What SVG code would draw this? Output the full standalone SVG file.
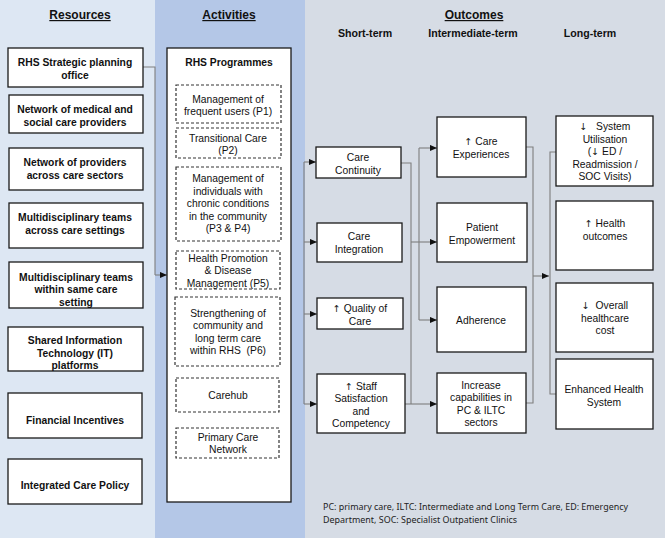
<svg xmlns="http://www.w3.org/2000/svg" width="669" height="540" viewBox="0 0 669 540">
<defs>
<style>
text{font-family:"Liberation Sans",Arial,sans-serif;fill:#111;text-anchor:middle}
.h{font-size:12px;font-weight:bold;text-decoration:underline}
.sh{font-size:10.6px;font-weight:bold}
.b{font-size:10.3px;font-weight:bold}
.r{font-size:10.3px}
.ar{font-family:"DejaVu Sans",sans-serif;font-size:9.5px;fill:#111}
.box{fill:#fff;stroke:#1a1a1a;stroke-width:1.3}
.dash{fill:#fff;stroke:#333;stroke-width:1.2;stroke-dasharray:3 2}
.ln{fill:none;stroke:#7f7f7f;stroke-width:1.1}
.note{font-family:"Noto Sans","Open Sans",sans-serif;font-size:9.4px;text-anchor:start;fill:#222}
</style>
<marker id="ah" viewBox="0 0 8 8" refX="8" refY="4" markerWidth="7" markerHeight="7" markerUnits="userSpaceOnUse" orient="auto">
<path d="M0,0.5 L8,4 L0,7.5 z" fill="#111"/>
</marker>
</defs>
<rect x="0" y="0" width="669" height="540" fill="#ffffff"/>
<rect x="0" y="0" width="155" height="538" fill="#dde7f3"/>
<rect x="155" y="0" width="150" height="538" fill="#b4c7e7"/>
<rect x="305" y="0" width="360" height="538" fill="#d6dce5"/>

<g id="headers">
<text class="h" x="80" y="19">Resources</text>
<text class="h" x="229" y="19">Activities</text>
<text class="h" x="474" y="19">Outcomes</text>
<text class="sh" x="365" y="37">Short-term</text>
<text class="sh" x="473" y="37">Intermediate-term</text>
<text class="sh" x="590" y="37">Long-term</text>
</g>

<g id="connectors">
<polyline class="ln" points="143,67 155,67 155,275"/>
<line class="ln" x1="155" y1="275" x2="167" y2="275" marker-end="url(#ah)"/>
<line class="ln" x1="304" y1="162" x2="304" y2="404"/>
<line class="ln" x1="304" y1="162" x2="316" y2="162" marker-end="url(#ah)"/>
<line class="ln" x1="304" y1="242" x2="317" y2="242" marker-end="url(#ah)"/>
<line class="ln" x1="304" y1="314" x2="317" y2="314" marker-end="url(#ah)"/>
<line class="ln" x1="304" y1="404" x2="317" y2="404" marker-end="url(#ah)"/>
<polyline class="ln" points="401,163 411,163 411,404"/>
<line class="ln" x1="405" y1="404" x2="437" y2="404" marker-end="url(#ah)"/>
<line class="ln" x1="411" y1="242" x2="437" y2="242" marker-end="url(#ah)"/>
<line class="ln" x1="419" y1="148" x2="419" y2="320"/>
<line class="ln" x1="419" y1="148" x2="437" y2="148" marker-end="url(#ah)"/>
<line class="ln" x1="419" y1="320" x2="437" y2="320" marker-end="url(#ah)"/>
<polyline class="ln" points="526,147 533,147 533,403 526,403"/>
<line class="ln" x1="533" y1="276" x2="549" y2="276" marker-end="url(#ah)"/>
<polyline class="ln" points="556,152 550,152 550,394 556,394"/>
</g>

<g id="res1"><rect class="box" x="8" y="48" width="135" height="39"/><text class="b" x="75" y="66">RHS Strategic planning<tspan x="75" dy="12.5">office</tspan></text></g>
<g id="res2"><rect class="box" x="9" y="95" width="134" height="38"/><text class="b" x="75" y="113">Network of medical and<tspan x="75" dy="12.5">social care providers</tspan></text></g>
<g id="res3"><rect class="box" x="9" y="148" width="134" height="42"/><text class="b" x="75" y="166">Network of providers<tspan x="75" dy="12.5">across care sectors</tspan></text></g>
<g id="res4"><rect class="box" x="9" y="203" width="134" height="45"/><text class="b" x="75" y="221">Multidisciplinary teams<tspan x="75" dy="12.5">across care settings</tspan></text></g>
<g id="res5"><rect class="box" x="9" y="262" width="134" height="46"/><text class="b" x="76" y="281">Multidisciplinary teams<tspan x="76" dy="12.3">within same care</tspan><tspan x="76" dy="12.3">setting</tspan></text></g>
<g id="res6"><rect class="box" x="8" y="327" width="135" height="44"/><text class="b" x="75" y="344">Shared Information<tspan x="75" dy="12.5">Technology (IT)</tspan><tspan x="75" dy="12.5">platforms</tspan></text></g>
<g id="res7"><rect class="box" x="8" y="393" width="134" height="45"/><text class="b" x="75" y="424">Financial Incentives</text></g>
<g id="res8"><rect class="box" x="8" y="459" width="134" height="45"/><text class="b" x="75" y="489">Integrated Care Policy</text></g>

<g id="programmes"><rect class="box" x="167" y="48" width="124" height="454"/><text class="b" x="229" y="66">RHS Programmes</text></g>
<g id="p1"><rect class="dash" x="176" y="85" width="105" height="38"/><text class="r" x="228" y="103">Management of<tspan x="228" dy="12.3">frequent users (P1)</tspan></text></g>
<g id="p2"><rect class="dash" x="176" y="128" width="105" height="30"/><text class="r" x="228" y="142">Transitional Care<tspan x="228" dy="12.3">(P2)</tspan></text></g>
<g id="p3"><rect class="dash" x="176" y="167" width="105" height="74"/><text class="r" x="228" y="182">Management of<tspan x="228" dy="12.6">individuals with</tspan><tspan x="228" dy="12.6">chronic conditions</tspan><tspan x="228" dy="12.6">in the community</tspan><tspan x="228" dy="12.6">(P3 &amp; P4)</tspan></text></g>
<g id="p5"><rect class="dash" x="176" y="251" width="104" height="38"/><text class="r" x="228" y="262">Health Promotion<tspan x="228" dy="12.4">&amp; Disease</tspan><tspan x="228" dy="12.4">Management (P5)</tspan></text></g>
<g id="p6"><rect class="dash" x="175" y="297" width="105" height="69"/><text class="r" x="228" y="317">Strengthening of<tspan x="228" dy="12.4">community and</tspan><tspan x="228" dy="12.4">long term care</tspan><tspan x="228" dy="12.4" xml:space="preserve">within RHS  (P6)</tspan></text></g>
<g id="carehub"><rect class="dash" x="176" y="378" width="103" height="34"/><text class="r" x="228" y="399">Carehub</text></g>
<g id="pcn"><rect class="dash" x="176" y="428" width="103" height="30"/><text class="r" x="228" y="441">Primary Care<tspan x="228" dy="12.3">Network</tspan></text></g>

<g id="st1"><rect class="box" x="316" y="147" width="85" height="31"/><text class="r" x="358" y="161">Care<tspan x="358" dy="12.5">Continuity</tspan></text></g>
<g id="st2"><rect class="box" x="317" y="223" width="85" height="39"/><text class="r" x="359" y="240">Care<tspan x="359" dy="12.7">Integration</tspan></text></g>
<g id="st3"><rect class="box" x="317" y="298" width="86" height="31"/><text class="r" x="360" y="312"><tspan class="ar">↑</tspan> Quality of<tspan x="360" dy="12.7">Care</tspan></text></g>
<g id="st4"><rect class="box" x="317" y="374" width="88" height="59"/><text class="r" x="361" y="390"><tspan class="ar">↑</tspan> Staff<tspan x="361" dy="12.4">Satisfaction</tspan><tspan x="361" dy="12.4">and</tspan><tspan x="361" dy="12.4">Competency</tspan></text></g>

<g id="im1"><rect class="box" x="437" y="117" width="89" height="60"/><text class="r" x="481" y="145"><tspan class="ar">↑</tspan> Care<tspan x="481" dy="12.7">Experiences</tspan></text></g>
<g id="im2"><rect class="box" x="437" y="203" width="90" height="59"/><text class="r" x="482" y="231">Patient<tspan x="482" dy="12.5">Empowerment</tspan></text></g>
<g id="im3"><rect class="box" x="437" y="287" width="89" height="65"/><text class="r" x="481" y="324">Adherence</text></g>
<g id="im4"><rect class="box" x="437" y="373" width="89" height="60"/><text class="r" x="481" y="389">Increase<tspan x="481" dy="12.4">capabilities in</tspan><tspan x="481" dy="12.4">PC &amp; ILTC</tspan><tspan x="481" dy="12.4">sectors</tspan></text></g>

<g id="lt1"><rect class="box" x="556" y="116" width="97" height="70"/><text class="r" x="605" y="130" xml:space="preserve"><tspan class="ar">↓</tspan>   System<tspan x="605" dy="12.5">Utilisation</tspan><tspan x="605" dy="12.5">(<tspan class="ar">↓</tspan> ED /</tspan><tspan x="605" dy="12.5">Readmission /</tspan><tspan x="605" dy="12.5">SOC Visits)</tspan></text></g>
<g id="lt2"><rect class="box" x="556" y="201" width="97" height="69"/><text class="r" x="605" y="227"><tspan class="ar">↑</tspan> Health<tspan x="605" dy="12.7">outcomes</tspan></text></g>
<g id="lt3"><rect class="box" x="556" y="283" width="97" height="69"/><text class="r" x="605" y="309" xml:space="preserve"><tspan class="ar">↓</tspan>  Overall<tspan x="605" dy="12.5">healthcare</tspan><tspan x="605" dy="12.5">cost</tspan></text></g>
<g id="lt4"><rect class="box" x="556" y="359" width="97" height="70"/><text class="r" x="604" y="393">Enhanced Health<tspan x="604" dy="12.7">System</tspan></text></g>

<g id="footnote">
<text class="note" x="323" y="510" textLength="305" lengthAdjust="spacingAndGlyphs">PC: primary care, ILTC: Intermediate and Long Term Care, ED: Emergency</text>
<text class="note" x="323" y="523" textLength="194" lengthAdjust="spacingAndGlyphs">Department, SOC: Specialist Outpatient Clinics</text>
</g>
</svg>
